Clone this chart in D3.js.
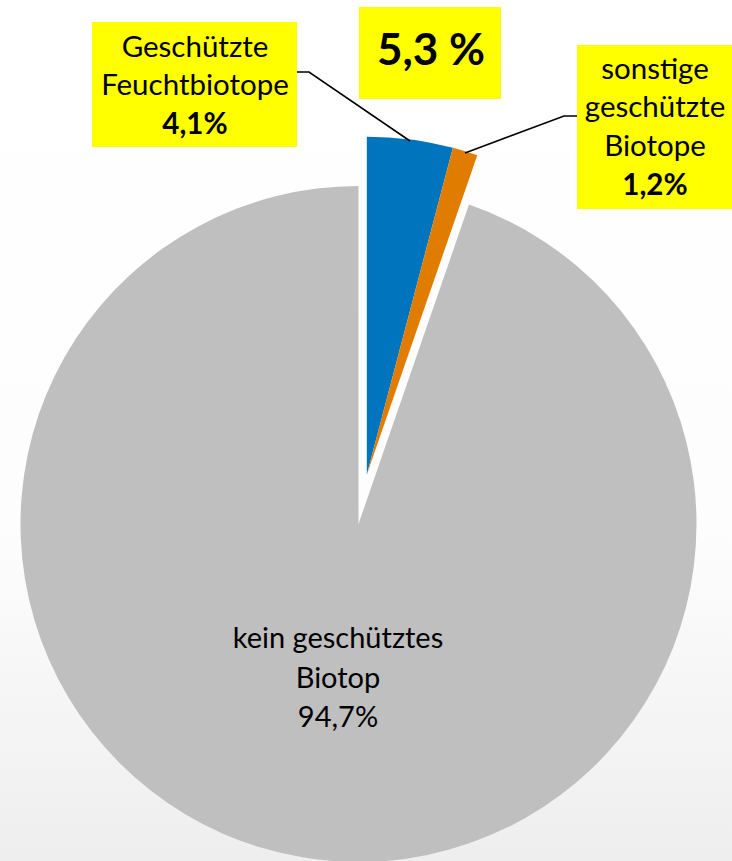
<!DOCTYPE html>
<html>
<head>
<meta charset="utf-8">
<script src="https://cdn.jsdelivr.net/npm/d3@7"></script>
<style>
  html, body { margin: 0; padding: 0; background: #fff; }
  svg { display: block; }
</style>
</head>
<body>
<svg id="chart" width="732" height="861"></svg>
<script>
// ---- data ----
const categories = ["Geschützte Feuchtbiotope", "sonstige geschützte Biotope", "kein geschütztes Biotop"];
const values = [4.1, 1.2, 94.7];
const valueLabels = ["4,1%", "1,2%", "94,7%"];
const totalProtectedLabel = "5,3 %";
const colors = ["#0074BD", "#E07C00", "#BFBFBF"];

const W = 732, H = 861;
const svg = d3.select("#chart");

// background gradient
const defs = svg.append("defs");
const grad = defs.append("linearGradient").attr("id", "bg").attr("x1", 0).attr("y1", 0).attr("x2", 0).attr("y2", 1);
grad.append("stop").attr("offset", "0%").attr("stop-color", "#ffffff");
grad.append("stop").attr("offset", "62%").attr("stop-color", "#fdfdfd");
grad.append("stop").attr("offset", "100%").attr("stop-color", "#eeeeee");
svg.append("rect").attr("width", W).attr("height", H).attr("fill", "url(#bg)");

const cx = 358.5, cy = 524, R = 338;
const explode = 50;

const pie = d3.pie().sort(null).value(d => d.value).startAngle(0).endAngle(2 * Math.PI);
const data = categories.map((c, i) => ({ name: c, value: values[i], color: colors[i], label: valueLabels[i] }));
const arcs = pie(data);
const arc = d3.arc().innerRadius(0).outerRadius(R);

// exploded protected group (first two slices), shifted along their common mid angle
const midAngle = (arcs[0].startAngle + arcs[1].endAngle) / 2;
const dx = Math.sin(midAngle) * explode, dy = -Math.cos(midAngle) * explode;

const g = svg.append("g");
arcs.forEach((a, i) => {
  const off = i < 2 ? [dx, dy] : [0, 0];
  g.append("path")
    .attr("d", arc(a))
    .attr("transform", `translate(${cx + off[0]},${cy + off[1]})`)
    .attr("fill", a.data.color);
});

// leader lines
const font = "Lato, 'Open Sans', sans-serif";
const lines = [
  [[297, 72], [309, 72], [410, 141]],
  [[577, 116], [564, 116], [465, 153]]
];
lines.forEach(pts => {
  svg.append("path").attr("d", d3.line()(pts)).attr("fill", "none").attr("stroke", "#000").attr("stroke-width", 1.6);
});

// label boxes
function box(x, y, w, h) {
  svg.append("rect").attr("x", x).attr("y", y).attr("width", w).attr("height", h).attr("fill", "#FFFF00");
}
function text(x, y, str, size, bold) {
  svg.append("text").attr("x", x).attr("y", y).attr("text-anchor", "middle")
    .attr("font-family", font).attr("font-size", size).attr("font-weight", bold ? "bold" : "normal")
    .attr("fill", "#000").text(str);
}

const fs = 29.5;
box(92, 22, 205, 125);
text(195, 57, "Geschützte", fs, false);
text(195, 95, "Feuchtbiotope", fs, false);
text(195, 134, valueLabels[0], fs, true);

box(359, 7, 142, 92);
text(431, 65, totalProtectedLabel, 44, true);

box(577, 45, 155, 164);
text(655, 79, "sonstige", fs, false);
text(655, 117, "geschützte", fs, false);
text(655, 156, "Biotope", fs, false);
text(655, 195, valueLabels[1], fs, true);

text(338, 648, "kein geschütztes", 29, false);
text(338, 688, "Biotop", 29, false);
text(338, 727, valueLabels[2], 29, false);
</script>
</body>
</html>
